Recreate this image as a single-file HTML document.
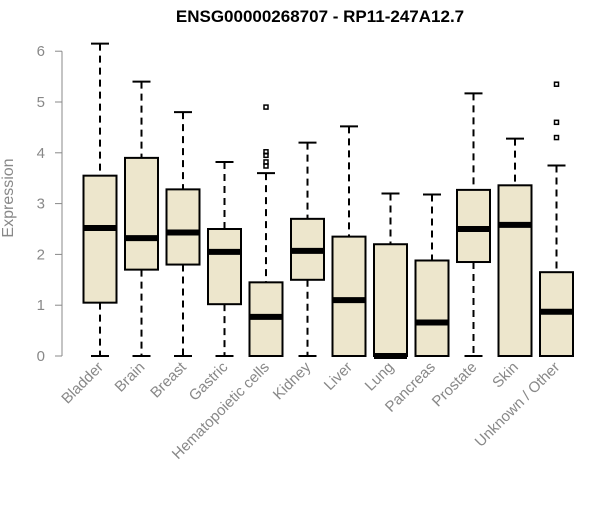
<!DOCTYPE html>
<html><head><meta charset="utf-8"><style>
body{margin:0;background:#fff;}
svg{font-family:"Liberation Sans",sans-serif;}
</style></head><body>
<svg width="600" height="500" id="chart"></svg>
<script>
const categories=["Bladder","Brain","Breast","Gastric","Hematopoietic cells","Kidney","Liver","Lung","Pancreas","Prostate","Skin","Unknown / Other"];
const whiskerLow=[0,0,0,0,0,0,0,0,0,0,0,0];
const q1=[1.05,1.7,1.8,1.02,0,1.5,0,0,0,1.85,0,0];
const medians=[2.52,2.32,2.43,2.05,0.77,2.07,1.1,0,0.66,2.5,2.58,0.87];
const q3=[3.55,3.9,3.28,2.5,1.45,2.7,2.35,2.2,1.88,3.27,3.36,1.65];
const whiskerHigh=[6.15,5.4,4.8,3.82,3.6,4.2,4.52,3.2,3.18,5.17,4.28,3.75];
const outliers=[[],[],[],[],[4.9,4.02,3.95,3.82,3.74],[],[],[],[],[],[],[5.35,4.6,4.3]];
const yTicks=[0,1,2,3,4,5,6];
const NS="http://www.w3.org/2000/svg";
const svg=document.getElementById('chart');
const y=v=>356-v*50.8;
const x=i=>100+i*41.5;
const bw=33;
function mk(t,a,p){const e=document.createElementNS(NS,t);for(const k in a)e.setAttribute(k,a[k]);(p||svg).appendChild(e);return e;}
const title=mk('text',{x:320,y:22,'text-anchor':'middle','font-size':17,'font-weight':'bold'});
title.textContent="ENSG00000268707 - RP11-247A12.7";


const yl=mk('text',{x:13,y:198,'text-anchor':'middle','font-size':16,fill:'#888',transform:'rotate(-90 13 198)'});
yl.textContent="Expression";


const ax=mk('line',{x1:62,x2:62,y1:y(0),y2:y(6),stroke:'#888'});


yTicks.forEach(v=>{
  mk('line',{x1:55,x2:62,y1:y(v),y2:y(v),stroke:'#888'});
  const t=mk('text',{x:45,y:y(v)+5,'text-anchor':'end','font-size':15,fill:'#888'});
  t.textContent=v;
  
  
});
categories.forEach((c,i)=>{
  const g=mk('g',{});
  
  
  const cx=x(i);
  mk('line',{x1:cx,x2:cx,y1:y(whiskerHigh[i]),y2:y(q3[i]),stroke:'#000','stroke-width':2,'stroke-dasharray':'7,5'},g);
  mk('line',{x1:cx,x2:cx,y1:y(q1[i]),y2:y(whiskerLow[i]),stroke:'#000','stroke-width':2,'stroke-dasharray':'7,5'},g);
  mk('line',{x1:cx-9,x2:cx+9,y1:y(whiskerHigh[i]),y2:y(whiskerHigh[i]),stroke:'#000','stroke-width':2},g);
  mk('line',{x1:cx-9,x2:cx+9,y1:y(whiskerLow[i]),y2:y(whiskerLow[i]),stroke:'#000','stroke-width':2},g);
  mk('rect',{x:cx-bw/2,y:y(q3[i]),width:bw,height:y(q1[i])-y(q3[i]),fill:'#EDE6CC',stroke:'#000','stroke-width':2},g);
  mk('line',{x1:cx-bw/2,x2:cx+bw/2,y1:y(medians[i]),y2:y(medians[i]),stroke:'#000','stroke-width':6},g);
  outliers[i].forEach(o=>{
    const p=mk('rect',{x:cx-2,y:y(o)-2,width:4,height:4,fill:'none',stroke:'#000','stroke-width':1.5},g);
    
    
  });
  const t=mk('text',{x:cx+4,y:368,'text-anchor':'end','font-size':15,fill:'#888',transform:`rotate(-45 ${cx+4} 368)`});
  t.textContent=c;
  
  
});
</script>
</body></html>
